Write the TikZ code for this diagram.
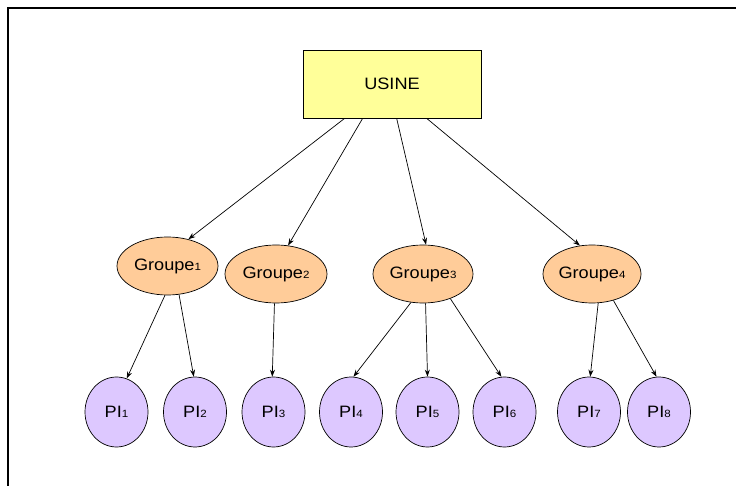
\documentclass[tikz,border=0pt]{standalone}
\usepackage{fontspec}
\setmainfont{Liberation Sans}[FakeStretch=1.1]
\usetikzlibrary{shapes.geometric,arrows.meta}
\definecolor{usinefill}{HTML}{FFFF99}
\definecolor{grpfill}{HTML}{FFCC99}
\definecolor{pifill}{HTML}{DDC8FF}
\newcommand{\sbd}[1]{{\fontsize{10.5}{10.5}\selectfont #1}}
\tikzset{
  usinebox/.style={draw=black, line width=0.7pt, fill=usinefill, minimum width=178pt, minimum height=68pt, inner sep=0pt, font=\fontsize{16.5}{16.5}\selectfont},
  grp/.style={ellipse, draw=black, line width=0.7pt, fill=grpfill, minimum height=58pt, inner sep=0pt, font=\fontsize{16.5}{16.5}\selectfont},
  pinode/.style={ellipse, draw=black, line width=0.7pt, fill=pifill, minimum width=63pt, minimum height=70pt, inner sep=0pt, font=\fontsize{16.5}{16.5}\selectfont},
  conn/.style={draw=black, line width=0.7pt, -{Stealth[length=7pt,width=5pt]}},
  frameline/.style={draw=black, line width=2.2pt}
}
\begin{document}
\begin{tikzpicture}[x=1pt,y=-1pt]
\useasboundingbox (0,0) rectangle (736,486);
\coordinate (fa) at (8,486);
\coordinate (fb) at (8,8);
\coordinate (fc) at (736,8);
\draw[frameline] (fa) -- (fb) -- (fc);

\node[usinebox] (usine) at (392,84) {USINE};

\node[grp, minimum width=101pt] (g1) at (167.5,266) {Groupe\sbd{1}};
\node[grp, minimum width=102pt] (g2) at (276,274) {Groupe\sbd{2}};
\node[grp, minimum width=100pt] (g3) at (423,274) {Groupe\sbd{3}};
\node[grp, minimum width=98pt] (g4) at (592,274) {Groupe\sbd{4}};

\node[pinode] (p1) at (116.5,412) {PI\sbd{1}};
\node[pinode] (p2) at (195,412) {PI\sbd{2}};
\node[pinode] (p3) at (273.5,412) {PI\sbd{3}};
\node[pinode] (p4) at (351,412) {PI\sbd{4}};
\node[pinode] (p5) at (427.5,412) {PI\sbd{5}};
\node[pinode] (p6) at (504.5,412) {PI\sbd{6}};
\node[pinode] (p7) at (589,412) {PI\sbd{7}};
\node[pinode] (p8) at (659,412) {PI\sbd{8}};

\draw[conn] ([xshift=42pt]usine.south west) -- (g1.52);
\draw[conn] ([xshift=60pt]usine.south west) -- (g2.67);
\draw[conn] ([xshift=94pt]usine.south west) -- (g3.84);
\draw[conn] ([xshift=124pt]usine.south west) -- (g4.113);

\draw[conn] (g1.-95) -- (p1.73);
\draw[conn] (g1.-68) -- (p2.92);
\draw[conn] (g2.-93) -- (p3.92);
\draw[conn] (g3.-113) -- (p4.86);
\draw[conn] (g3.-85) -- (p5.north);
\draw[conn] (g3.-42) -- (p6.95);
\draw[conn] (g4.-78) -- (p7.88);
\draw[conn] (g4.-51) -- (p8.94);
\end{tikzpicture}
\end{document}
